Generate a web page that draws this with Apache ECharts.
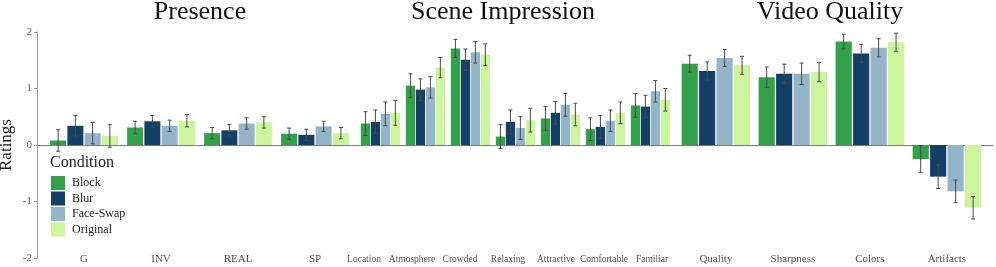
<!DOCTYPE html>
<html>
<head>
<meta charset="utf-8">
<script src="https://cdn.jsdelivr.net/npm/echarts@6/dist/echarts.min.js"></script>
<style>html,body{margin:0;padding:0;background:#fff}#c{width:996px;height:267px}</style>
</head>
<body>
<div id="c"></div>
<script>
// ---- data ----
const panelTitles = ['Presence', 'Scene Impression', 'Video Quality'];
const presenceCats = ['G', 'INV', 'REAL', 'SP'];
const sceneCats = ['Location', 'Atmosphere', 'Crowded', 'Relaxing', 'Attractive', 'Comfortable', 'Familiar'];
const videoCats = ['Quality', 'Sharpness', 'Colors', 'Artifacts'];
const conditions = ['Block', 'Blur', 'Face-Swap', 'Original'];
const yTicks = [-2, -1, 0, 1, 2];

// means, in order presenceCats + sceneCats + videoCats
const blockVals    = [0.08, 0.31, 0.21, 0.20,  0.38, 1.05, 1.71, 0.15, 0.47, 0.28, 0.70,  1.44, 1.20, 1.83, -0.25];
const blurVals     = [0.34, 0.42, 0.26, 0.18,  0.41, 0.98, 1.51, 0.41, 0.57, 0.32, 0.68,  1.31, 1.26, 1.62, -0.56];
const faceSwapVals = [0.21, 0.34, 0.38, 0.33,  0.55, 1.02, 1.64, 0.30, 0.71, 0.43, 0.95,  1.54, 1.26, 1.72, -0.82];
const originalVals = [0.16, 0.43, 0.40, 0.21,  0.57, 1.37, 1.60, 0.44, 0.54, 0.57, 0.80,  1.41, 1.29, 1.82, -1.11];
// standard errors (half error-bar length)
const blockSE    = [0.19, 0.11, 0.10, 0.10,  0.21, 0.21, 0.16, 0.21, 0.21, 0.20, 0.21,  0.15, 0.18, 0.13, 0.24];
const blurSE     = [0.18, 0.10, 0.10, 0.10,  0.21, 0.19, 0.19, 0.21, 0.20, 0.20, 0.20,  0.16, 0.17, 0.16, 0.21];
const faceSwapSE = [0.19, 0.10, 0.10, 0.09,  0.21, 0.19, 0.19, 0.20, 0.20, 0.19, 0.19,  0.15, 0.19, 0.16, 0.20];
const originalSE = [0.20, 0.11, 0.10, 0.10,  0.22, 0.18, 0.19, 0.21, 0.20, 0.19, 0.20,  0.16, 0.17, 0.16, 0.20];

// ---- styling / layout ----
const colors = ['#33a14a', '#143f66', '#94b4c7', '#ccf59d'];
const FONT = 'Liberation Serif, Times New Roman, serif';
const TOP = 32, BOTTOM = 9;
const BAR_GAP_R = 0.08;
const panels = [
  {cats: presenceCats, left: 45.5, width: 308, catGap: 0.12, titleX: 200},
  {cats: sceneCats, left: 357.9, width: 315, catGap: 0.13, titleX: 503},
  {cats: videoCats, left: 677.4, width: 308, catGap: 0.11, titleX: 830}
];
const allVals = [blockVals, blurVals, faceSwapVals, originalVals];
const allSE = [blockSE, blurSE, faceSwapSE, originalSE];

const grid = [], xAxis = [], yAxis = [], series = [];
// frame grid (index 0): visible y axis and zero line
grid.push({left: 37, right: 3, top: TOP, bottom: BOTTOM, outerBoundsMode: 'none', containLabel: false});
xAxis.push({gridIndex: 0, type: 'value', min: 0, max: 1, axisLine: {show: true, onZero: true, lineStyle: {color: '#7a7a7a', width: 1}},
  axisTick: {show: false}, axisLabel: {show: false}, splitLine: {show: false}});
yAxis.push({gridIndex: 0, type: 'value', min: yTicks[0], max: yTicks[yTicks.length - 1], interval: 1,
  name: 'Ratings', nameLocation: 'middle', nameGap: 22, nameRotate: 90, nameMoveOverlap: false,
  nameTextStyle: {fontFamily: FONT, fontSize: 17, color: '#111'},
  axisLine: {show: true, lineStyle: {color: '#999'}}, axisTick: {show: true, length: 3, lineStyle: {color: '#999'}},
  axisLabel: {fontFamily: FONT, fontSize: 11, color: '#666', margin: 5}, splitLine: {show: false}});

let offset = 0;
panels.forEach((p, pi) => {
  const gi = pi + 1;
  grid.push({left: p.left, width: p.width, top: TOP, bottom: BOTTOM, outerBoundsMode: 'none', containLabel: false});
  xAxis.push({gridIndex: gi, type: 'category', data: p.cats, axisLine: {show: false, onZero: false},
    axisTick: {show: false},
    axisLabel: {show: pi !== 1, fontFamily: FONT, fontSize: 11, color: '#555', margin: 1, verticalAlign: 'middle', interval: 0}});
  yAxis.push({gridIndex: gi, type: 'value', min: -2, max: 2, show: false});
  const n = p.cats.length;
  conditions.forEach((name, si) => {
    series.push({name, type: 'bar', xAxisIndex: gi, yAxisIndex: gi,
      data: allVals[si].slice(offset, offset + n),
      itemStyle: {color: colors[si]},
      barGap: (BAR_GAP_R * 100) + '%', barCategoryGap: (p.catGap * 100) + '%',
      emphasis: {disabled: true}, animation: false});
  });
  const errData = [];
  for (let c = 0; c < n; c++) {
    for (let si = 0; si < 4; si++) {
      const v = allVals[si][offset + c], e = allSE[si][offset + c];
      errData.push([c, si, v - e, v + e]);
    }
  }
  const catGap = p.catGap;
  series.push({type: 'custom', xAxisIndex: gi, yAxisIndex: gi, data: errData, z: 10, animation: false,
    encode: {x: 0, y: [2, 3]},
    renderItem: function (params, api) {
      const c = api.value(0), s = api.value(1);
      const lo = api.coord([c, api.value(2)]);
      const hi = api.coord([c, api.value(3)]);
      const band = api.size([1, 0])[0];
      const group = band * (1 - catGap);
      const w = group / (4 + 3 * BAR_GAP_R);
      const x = lo[0] - group / 2 + s * w * (1 + BAR_GAP_R) + w / 2;
      const cap = 2;
      const st = {stroke: '#4a4a4a', lineWidth: 1};
      return {type: 'group', children: [
        {type: 'line', shape: {x1: x, y1: lo[1], x2: x, y2: hi[1]}, style: st},
        {type: 'line', shape: {x1: x - cap, y1: lo[1], x2: x + cap, y2: lo[1]}, style: st},
        {type: 'line', shape: {x1: x - cap, y1: hi[1], x2: x + cap, y2: hi[1]}, style: st}
      ]};
    }});
  offset += n;
});

// label-only grid for the Scene Impression category labels
grid.push({left: 340, width: 336, top: TOP, bottom: BOTTOM, outerBoundsMode: 'none', containLabel: false});
xAxis.push({gridIndex: 4, type: 'category', data: sceneCats, axisLine: {show: false, onZero: false}, axisTick: {show: false},
  axisLabel: {fontFamily: FONT, fontSize: 9.5, color: '#555', margin: 1, verticalAlign: 'middle', interval: 0}});
yAxis.push({gridIndex: 4, type: 'value', min: -2, max: 2, show: false});

const titles = panels.map((p, i) => ({text: panelTitles[i], left: p.titleX, top: -1, textAlign: 'center', padding: 0,
  textStyle: {fontFamily: FONT, fontSize: 26, fontWeight: 'normal', color: '#111'}}));
titles.push({text: 'Condition', left: 50, top: 155, padding: 0,
  textStyle: {fontFamily: FONT, fontSize: 16, fontWeight: 'normal', color: '#222'}});

const chart = echarts.init(document.getElementById('c'), null, {renderer: 'canvas'});
chart.setOption({
  animation: false,
  textStyle: {fontFamily: FONT},
  title: titles,
  legend: {data: conditions, orient: 'vertical', left: 51, top: 176, itemWidth: 14, itemHeight: 14, itemGap: 1.5,
    icon: 'rect', padding: 0, textStyle: {fontFamily: FONT, fontSize: 12, color: '#222', padding: [0, 0, 0, 2]}},
  grid, xAxis, yAxis, series
});
</script>
</body>
</html>
